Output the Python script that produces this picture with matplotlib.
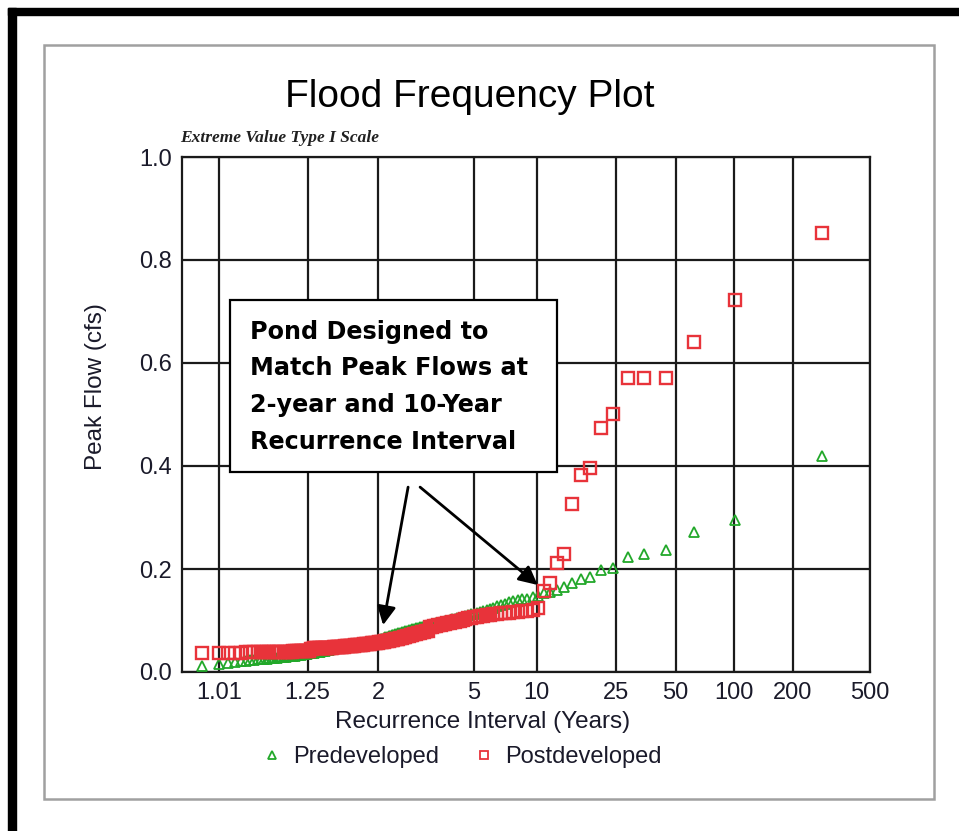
import numpy as np
import matplotlib
matplotlib.use("Agg")
import matplotlib.pyplot as plt
from matplotlib.lines import Line2D
from matplotlib.patches import Rectangle
from matplotlib.ticker import NullLocator

# Annual peak flows (cfs), sorted from largest to smallest (rank 1 first)
predeveloped = [
    0.419, 0.295, 0.272, 0.237, 0.229, 0.223, 0.201, 0.198, 0.185, 0.180,
    0.173, 0.165, 0.159, 0.155, 0.153, 0.148, 0.145, 0.142, 0.141, 0.139,
    0.137, 0.135, 0.132, 0.130, 0.128, 0.125, 0.122, 0.120, 0.118, 0.116,
    0.114, 0.113, 0.112, 0.111, 0.109, 0.107, 0.105, 0.104, 0.103, 0.102,
    0.101, 0.100, 0.099, 0.098, 0.097, 0.096, 0.095, 0.094, 0.093, 0.092,
    0.091, 0.090, 0.089, 0.088, 0.087, 0.086, 0.085, 0.084, 0.083, 0.082,
    0.081, 0.080, 0.079, 0.078, 0.077, 0.076, 0.075, 0.074, 0.073, 0.072,
    0.071, 0.070, 0.069, 0.068, 0.067, 0.066, 0.065, 0.064, 0.063, 0.062,
    0.061, 0.060, 0.059, 0.059, 0.058, 0.058, 0.058, 0.057, 0.057, 0.057,
    0.056, 0.056, 0.055, 0.055, 0.054, 0.054, 0.053, 0.053, 0.052, 0.052,
    0.051, 0.050, 0.050, 0.049, 0.048, 0.048, 0.047, 0.046, 0.046, 0.045,
    0.044, 0.044, 0.043, 0.042, 0.042, 0.041, 0.040, 0.040, 0.039, 0.039,
    0.038, 0.038, 0.037, 0.037, 0.036, 0.036, 0.035, 0.035, 0.034, 0.034,
    0.033, 0.033, 0.033, 0.032, 0.032, 0.031, 0.031, 0.031, 0.030, 0.030,
    0.029, 0.029, 0.028, 0.028, 0.027, 0.027, 0.026, 0.026, 0.025, 0.025,
    0.024, 0.023, 0.022, 0.021, 0.020, 0.018, 0.016, 0.011,
]

postdeveloped = [
    0.853, 0.722, 0.641, 0.571, 0.571, 0.571, 0.501, 0.474, 0.397, 0.382,
    0.326, 0.229, 0.212, 0.173, 0.157, 0.124, 0.121, 0.119, 0.118, 0.117,
    0.116, 0.115, 0.115, 0.114, 0.113, 0.112, 0.111, 0.110, 0.109, 0.108,
    0.107, 0.106, 0.105, 0.104, 0.103, 0.101, 0.100, 0.099, 0.098, 0.097,
    0.096, 0.095, 0.094, 0.093, 0.092, 0.091, 0.090, 0.089, 0.088, 0.087,
    0.080, 0.079, 0.078, 0.077, 0.076, 0.075, 0.074, 0.073, 0.072, 0.071,
    0.070, 0.069, 0.068, 0.067, 0.066, 0.066, 0.065, 0.064, 0.064, 0.063,
    0.062, 0.062, 0.061, 0.060, 0.060, 0.059, 0.059, 0.058, 0.058, 0.057,
    0.057, 0.056, 0.056, 0.056, 0.055, 0.055, 0.054, 0.054, 0.054, 0.053,
    0.053, 0.053, 0.052, 0.052, 0.052, 0.051, 0.051, 0.051, 0.050, 0.050,
    0.050, 0.050, 0.049, 0.049, 0.049, 0.049, 0.048, 0.048, 0.048, 0.048,
    0.047, 0.047, 0.047, 0.047, 0.047, 0.046, 0.046, 0.046, 0.046, 0.046,
    0.046, 0.046, 0.046, 0.045, 0.045, 0.041, 0.041, 0.040, 0.040, 0.040,
    0.040, 0.040, 0.040, 0.040, 0.040, 0.039, 0.039, 0.039, 0.039, 0.039,
    0.039, 0.039, 0.039, 0.039, 0.039, 0.039, 0.039, 0.039, 0.039, 0.039,
    0.038, 0.038, 0.038, 0.037, 0.037, 0.037, 0.037, 0.037,
]

x_ticks = [1.01, 1.25, 2, 5, 10, 25, 50, 100, 200, 500]
x_tick_labels = ["1.01", "1.25", "2", "5", "10", "25", "50", "100", "200", "500"]
y_ticks = [0.0, 0.2, 0.4, 0.6, 0.8, 1.0]

annotation_lines = ["Pond Designed to", "Match Peak Flows at",
                    "2-year and 10-Year", "Recurrence Interval"]

W, H = 959, 831
GREEN = "#22a82a"
RED = "#e8333a"
TEXT = "#1a1a2a"
SANS = ["Liberation Sans", "DejaVu Sans"]


def gringorten(n_years):
    # recurrence interval of each rank, Gringorten plotting position
    ranks = np.arange(1, n_years + 1)
    return (n_years + 0.12) / (ranks - 0.44)


def ev1_forward(t):
    t = np.clip(np.asarray(t, dtype=float), 1.0 + 1e-9, None)
    return -np.log(-np.log(1.0 - 1.0 / t))


def ev1_inverse(y):
    y = np.asarray(y, dtype=float)
    return 1.0 / (1.0 - np.exp(-np.exp(-y)))


def fig_xy(x, y):
    # pixel position (from top-left) to figure fraction
    return x / W, 1 - y / H


fig = plt.figure(figsize=(W / 100, H / 100), dpi=100)
fig.patch.set_facecolor("white")

# outer black frame (top and left only) and inner grey panel
fig.add_artist(Rectangle(fig_xy(8, 15), (W - 8) / W, 7 / H, transform=fig.transFigure,
                         color="black", zorder=0))
fig.add_artist(Rectangle(fig_xy(8, H), 8 / W, (H - 8) / H, transform=fig.transFigure,
                         color="black", zorder=0))
fig.add_artist(Rectangle(fig_xy(44, 799), 890 / W, 754 / H, transform=fig.transFigure,
                         facecolor="none", edgecolor="#a0a0a0", lw=1.8, zorder=0))

ax = fig.add_axes([182 / W, 1 - 672 / H, (870 - 182) / W, (672 - 157) / H])
ax.set_xscale("function", functions=(ev1_forward, ev1_inverse))

t_pre = gringorten(len(predeveloped))
t_post = gringorten(len(postdeveloped))

ax.plot(t_pre, predeveloped, ls="none", marker="^", ms=6.5, mfc="none",
        mec=GREEN, mew=1.3, zorder=3)
ax.plot(t_post, postdeveloped, ls="none", marker="s", ms=8, mfc="none",
        mec=RED, mew=1.7, zorder=4)

ax.set_xlim(1.000774, 500)
ax.set_ylim(0, 1.0)
ax.set_xticks(x_ticks)
ax.set_xticklabels(x_tick_labels, fontsize=17, family=SANS, color=TEXT)
ax.xaxis.set_minor_locator(NullLocator())
ax.set_yticks(y_ticks)
ax.set_yticklabels([f"{v:.1f}" for v in y_ticks], fontsize=17, family=SANS, color=TEXT)
ax.tick_params(length=0, pad=7)
ax.grid(True, color="#1a1a1a", lw=1.6)
ax.set_axisbelow(True)
for s in ax.spines.values():
    s.set_linewidth(1.6)
    s.set_color("#1a1a1a")

fig.text(*fig_xy(470, 97), "Flood Frequency Plot", ha="center", va="center",
         fontsize=28, family=SANS, color="black")
fig.text(*fig_xy(180, 138), "Extreme Value Type I Scale", ha="left", va="center",
         fontsize=12.5, family="Liberation Serif", style="italic", weight="bold",
         color="#202020")
fig.text(*fig_xy(96, 387), "Peak Flow (cfs)", ha="center", va="center",
         rotation=90, fontsize=17.5, family=SANS, color=TEXT)
fig.text(*fig_xy(483, 722), "Recurrence Interval (Years)", ha="center", va="center",
         fontsize=17.5, family=SANS, color=TEXT)

handles = [
    Line2D([], [], ls="none", marker="^", ms=6, mfc="none", mec=GREEN, mew=1.3,
           label="Predeveloped"),
    Line2D([], [], ls="none", marker="s", ms=6, mfc="none", mec=RED, mew=1.3,
           label="Postdeveloped"),
]
fig.legend(handles=handles, loc="center", bbox_to_anchor=fig_xy(462, 757), ncol=2,
           frameon=False, prop={"family": SANS, "size": 17}, handlelength=0.8,
           handletextpad=0.5, columnspacing=1.5, labelcolor=TEXT)

# callout box with arrows pointing at the 2-year and 10-year matches
fig.add_artist(Rectangle(fig_xy(230, 472), 327 / W, 172 / H, transform=fig.transFigure,
                         facecolor="white", edgecolor="black", lw=1.6, zorder=5))
for i, line in enumerate(annotation_lines):
    fig.text(*fig_xy(250, 332 + 36.5 * i), line, ha="left", va="center",
             fontsize=17.2, weight="bold", family="DejaVu Sans", zorder=6)

arrow = dict(arrowstyle="-|>", color="black", lw=2, mutation_scale=28, shrinkA=0, shrinkB=0)
ax.annotate("", xy=(2.08, 0.091), xytext=(2.595, 0.359), arrowprops=arrow,
            annotation_clip=False, zorder=6)
ax.annotate("", xy=(10.1, 0.169), xytext=(2.904, 0.359), arrowprops=arrow,
            annotation_clip=False, zorder=6)

fig.savefig("out.png", dpi=100)
